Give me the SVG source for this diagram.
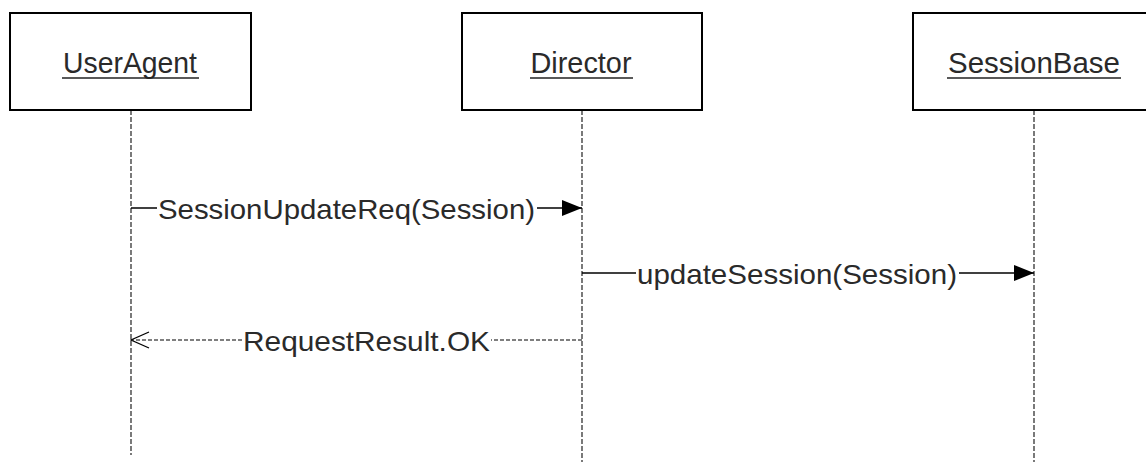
<svg xmlns="http://www.w3.org/2000/svg" width="1146" height="462" viewBox="0 0 1146 462">
  <style>
    .box { fill: #ffffff; stroke: #000000; stroke-width: 2; }
    .name { font-family: "Liberation Sans", Arial, sans-serif; font-size: 29px; fill: #2a2a2a; text-anchor: middle; }
    .uline { stroke: #222222; stroke-width: 1.5; }
    .life { stroke: #222222; stroke-width: 1.2; stroke-dasharray: 5 2; fill: none; }
    .msg { stroke: #000000; stroke-width: 1.5; fill: none; }
    .ret { stroke: #000000; stroke-width: 1.2; stroke-dasharray: 4 2; fill: none; }
    .lbl { font-family: "Liberation Sans", Arial, sans-serif; font-size: 28px; fill: #2a2a2a; }
  </style>
  <defs>
    <marker id="solidHead" markerWidth="20" markerHeight="18" refX="20" refY="9" orient="auto" markerUnits="userSpaceOnUse">
      <path d="M0,1 L20,9 L0,17 Z" fill="#000000"/>
    </marker>
    <marker id="openHead" markerWidth="20" markerHeight="18" refX="19" refY="9" orient="auto" markerUnits="userSpaceOnUse">
      <path d="M1,1 L19,9 L1,17" fill="none" stroke="#000000" stroke-width="1.3"/>
    </marker>
  </defs>
  <rect width="1146" height="462" fill="#ffffff"/>

  <!-- lifelines -->
  <g id="lifelines">
    <line class="life" x1="131" y1="110" x2="131" y2="455"/>
    <line class="life" x1="582" y1="110" x2="582" y2="462"/>
    <line class="life" x1="1034" y1="110" x2="1034" y2="462"/>
  </g>

  <g id="node-useragent">
    <rect class="box" x="10" y="13" width="241" height="97"/>
    <text class="name" x="130" y="73" textLength="134" lengthAdjust="spacingAndGlyphs">UserAgent</text>
    <line class="uline" x1="62" y1="78" x2="199" y2="78"/>
  </g>

  <g id="node-director">
    <rect class="box" x="462" y="13" width="240" height="97"/>
    <text class="name" x="581" y="73" textLength="101" lengthAdjust="spacingAndGlyphs">Director</text>
    <line class="uline" x1="530" y1="78" x2="633" y2="78"/>
  </g>

  <g id="node-sessionbase">
    <rect class="box" x="913" y="13" width="241" height="97"/>
    <text class="name" x="1034" y="73" textLength="172" lengthAdjust="spacingAndGlyphs">SessionBase</text>
    <line class="uline" x1="947" y1="78" x2="1121" y2="78"/>
  </g>

  <g id="connectors">
    <!-- SessionUpdateReq -->
    <line class="msg" x1="131" y1="208" x2="157" y2="208"/>
    <line class="msg" x1="537" y1="208" x2="582" y2="208" marker-end="url(#solidHead)"/>
    <text class="lbl" x="158" y="219" textLength="377" lengthAdjust="spacingAndGlyphs">SessionUpdateReq(Session)</text>

    <!-- updateSession -->
    <line class="msg" x1="582" y1="273" x2="636" y2="273"/>
    <line class="msg" x1="959" y1="273" x2="1034" y2="273" marker-end="url(#solidHead)"/>
    <text class="lbl" x="637" y="284" textLength="320" lengthAdjust="spacingAndGlyphs">updateSession(Session)</text>

    <!-- RequestResult.OK -->
    <line class="ret" x1="582" y1="340" x2="491" y2="340"/>
    <line class="ret" x1="242" y1="340" x2="131" y2="340" marker-end="url(#openHead)"/>
    <text class="lbl" x="243" y="351" textLength="247" lengthAdjust="spacingAndGlyphs">RequestResult.OK</text>
  </g>
</svg>
